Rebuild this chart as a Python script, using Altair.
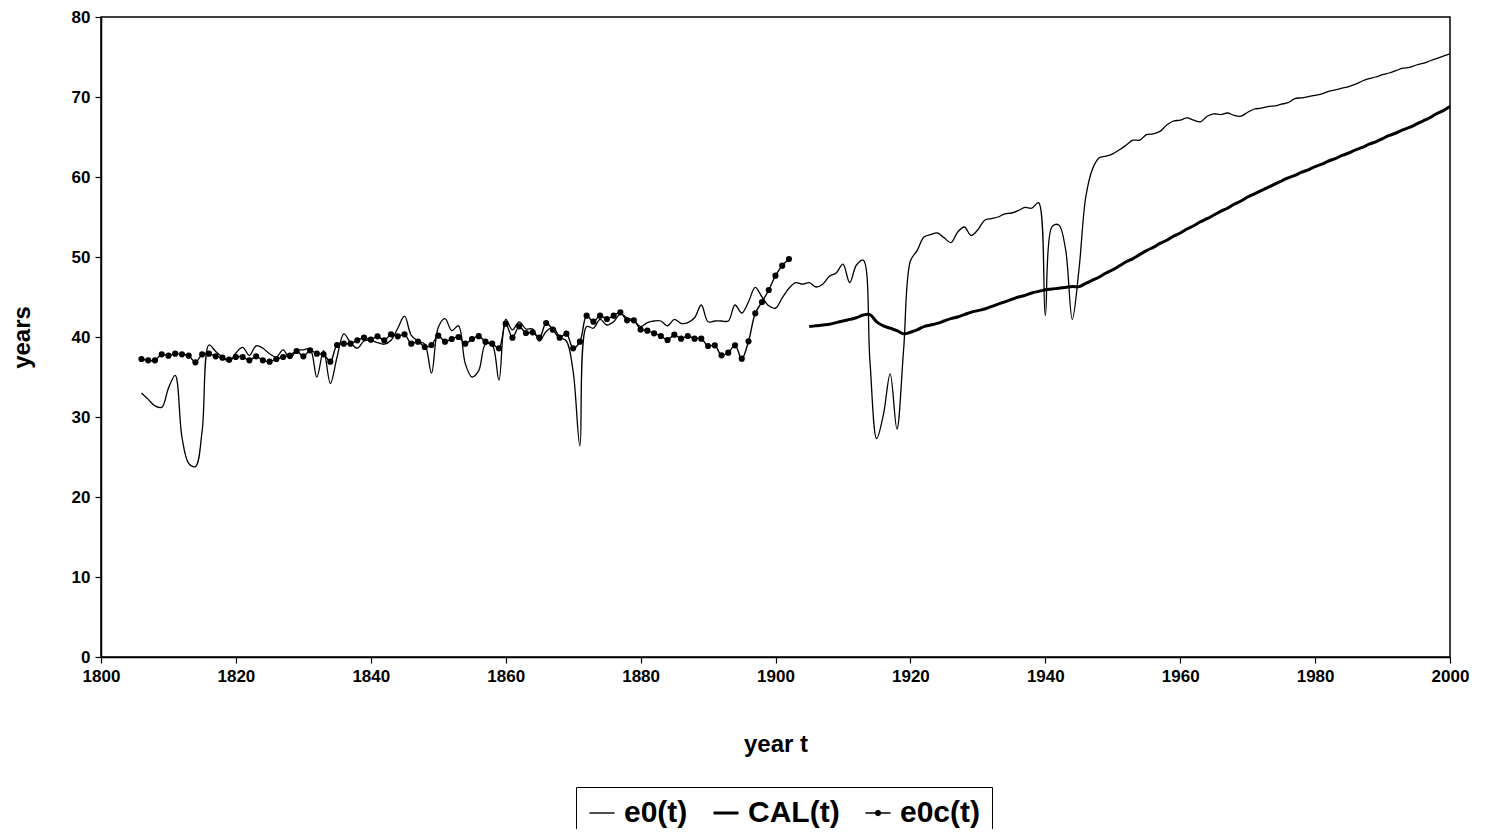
import altair as alt
import pandas as pd

FONT = "Liberation Sans"

series_names = ["e0(t)", "CAL(t)", "e0c(t)"]
x_ticks = [1800, 1820, 1840, 1860, 1880, 1900, 1920, 1940, 1960, 1980, 2000]
y_ticks = [0, 10, 20, 30, 40, 50, 60, 70, 80]

# e0(t): yearly values from 1806 to 2000
e0_start = 1806
e0_values = [
    33.0, 32.2, 31.4, 31.2, 33.6, 35.2, 27.5, 24.2, 23.8, 28.3,
    39.0, 38.2, 37.5, 36.9, 38.0, 38.7, 37.7, 38.9, 38.6, 37.9,
    37.5, 38.4, 37.3, 38.3, 38.4, 38.5, 35.0, 38.3, 34.2, 37.5,
    40.4, 39.3, 38.6, 39.5, 39.6, 39.3, 39.1, 39.6, 41.1, 42.6,
    40.2, 39.5, 39.1, 35.5, 41.2, 42.3, 40.8, 41.4, 36.7, 35.0,
    35.8, 39.1, 39.0, 34.6, 42.2, 40.9, 41.9, 41.0, 41.0, 39.5,
    40.7, 41.2, 40.0, 39.5, 35.7, 26.4, 41.3, 41.1, 42.2, 41.5,
    41.9, 42.9, 42.4, 42.1, 41.3, 41.8, 42.0, 42.0, 41.4, 42.2,
    41.7, 41.8, 42.4, 44.0, 41.9, 42.0, 42.0, 42.0, 44.0, 43.0,
    44.4, 46.2, 45.0, 43.9, 43.6, 44.9, 46.1, 46.8, 46.6, 46.8,
    46.25, 46.6, 47.6, 48.0, 49.1, 46.8, 49.0, 49.6, 37.0, 27.3,
    30.3, 35.4, 28.5, 38.5, 49.5, 50.8, 52.5, 52.8, 53.0, 52.4,
    51.8, 53.1, 53.75, 52.7, 53.4, 54.6, 54.8, 55.0, 55.4, 55.5,
    55.8, 56.2, 56.1, 56.8, 42.7, 53.8, 54.0, 51.0, 42.2, 48.5,
    57.5, 61.0, 62.4, 62.6, 62.9, 63.4, 64.0, 64.6, 64.6, 65.3,
    65.4, 65.7, 66.5, 67.0, 67.1, 67.4, 67.1, 66.9, 67.6, 67.9,
    67.8, 68.0, 67.7, 67.6, 68.1, 68.5, 68.6, 68.8, 68.9, 69.1,
    69.3, 69.8, 69.9, 70.05, 70.2, 70.4, 70.7, 70.9, 71.1, 71.3,
    71.6, 72.0, 72.3, 72.5, 72.8, 73.0, 73.3, 73.6, 73.7, 74.0,
    74.2, 74.5, 74.8, 75.1, 75.4,
]

# CAL(t): yearly values from 1905 to 2000
cal_start = 1905
cal_values = [
    41.3, 41.4, 41.5, 41.6, 41.8, 42.0, 42.2, 42.4, 42.75, 42.8,
    41.9, 41.4, 41.1, 40.8, 40.4, 40.6, 40.9, 41.3, 41.5, 41.7,
    42.0, 42.3, 42.5, 42.8, 43.1, 43.3, 43.5, 43.8, 44.1, 44.4,
    44.7, 45.0, 45.2, 45.5, 45.7, 45.9, 46.0, 46.1, 46.2, 46.3,
    46.3, 46.7, 47.1, 47.5, 48.0, 48.4, 48.9, 49.4, 49.8, 50.3,
    50.8, 51.2, 51.7, 52.1, 52.6, 53.0, 53.5, 53.9, 54.4, 54.8,
    55.25, 55.7, 56.1, 56.6, 57.0, 57.5, 57.9, 58.3, 58.7, 59.1,
    59.5, 59.9, 60.2, 60.6, 60.9, 61.3, 61.6, 62.0, 62.3, 62.7,
    63.0, 63.4, 63.7, 64.1, 64.4, 64.8, 65.2, 65.5, 65.9, 66.2,
    66.6, 67.0, 67.4, 67.9, 68.3, 68.8,
]

# e0c(t): yearly values from 1806 to 1902
e0c_start = 1806
e0c_values = [
    37.25, 37.08, 37.08, 37.83, 37.67, 37.92, 37.83, 37.67, 36.83, 37.83,
    37.92, 37.58, 37.42, 37.17, 37.5, 37.5, 37.08, 37.58, 37.08, 36.92,
    37.25, 37.5, 37.67, 38.25, 37.58, 38.33, 37.92, 37.83, 36.92, 39.0,
    39.17, 39.17, 39.58, 39.92, 39.67, 40.08, 39.58, 40.33, 40.08, 40.33,
    39.17, 39.42, 38.75, 39.0, 40.17, 39.42, 39.75, 40.0, 39.17, 39.75,
    40.1, 39.42, 39.17, 38.58, 41.67, 39.92, 41.33, 40.5, 40.58, 39.92,
    41.75, 40.92, 39.92, 40.42, 38.58, 39.42, 42.67, 41.92, 42.67, 42.25,
    42.67, 43.08, 42.08, 42.08, 40.93, 40.79, 40.46, 40.13, 39.63, 40.29,
    39.79, 40.13, 39.79, 39.79, 38.88, 38.96, 37.71, 38.04, 38.96, 37.29,
    39.46, 42.96, 44.38, 45.88, 47.67, 48.92, 49.75,
]

rows = []
for name, start, vals in [
    ("e0(t)", e0_start, e0_values),
    ("CAL(t)", cal_start, cal_values),
    ("e0c(t)", e0c_start, e0c_values),
]:
    for i, v in enumerate(vals):
        rows.append({"year": start + i, "value": v, "series": name})
df = pd.DataFrame(rows)

x_scale = alt.Scale(domain=[1800, 2000], nice=False, zero=False)
y_scale = alt.Scale(domain=[0, 80], nice=False)

x_axis = alt.Axis(
    values=x_ticks, format="d", title="year t", grid=False,
    labelFont=FONT, labelFontSize=17, labelFontWeight="bold", labelColor="black",
    titleFont=FONT, titleFontSize=24, titleFontWeight="bold", titleColor="black",
    titlePadding=48, labelPadding=5, tickSize=6, tickColor="black",
    domainColor="black", domainWidth=1.5, tickWidth=1.2, labelFlush=False,
)
y_axis = alt.Axis(
    values=y_ticks, title="years", grid=False,
    labelFont=FONT, labelFontSize=17, labelFontWeight="bold", labelColor="black",
    titleFont=FONT, titleFontSize=24, titleFontWeight="bold", titleColor="black",
    titlePadding=37, labelPadding=5, tickSize=6, tickColor="black",
    domainColor="black", domainWidth=1.5, tickWidth=1.2,
)

x_enc = alt.X("year:Q", scale=x_scale, axis=x_axis)
y_enc = alt.Y("value:Q", scale=y_scale, axis=y_axis)

base = alt.Chart(df)


def series_line(name, width):
    return (
        base.transform_filter(alt.datum.series == name)
        .mark_line(interpolate="catmull-rom", color="black", strokeWidth=width)
        .encode(x=x_enc, y=y_enc)
    )


e0_line = series_line("e0(t)", 1.3)
cal_line = series_line("CAL(t)", 3.0)
e0c_line = series_line("e0c(t)", 1.4)

dots = (
    base.transform_filter(alt.datum.series == "e0c(t)")
    .mark_point(filled=True, shape="circle", size=38, color="black", opacity=1)
    .encode(x=x_enc, y=y_enc)
)

# legend symbols (custom SVG paths): thin line, thick line, line with a dot
THIN_PATH = "M-1,0L1,0"
THICK_PATH = "M-1,-0.06L1,-0.06M-1,0L1,0M-1,0.06L1,0.06"
DOT_PATH = (
    "M-1,0L1,0"
    "M0.2,0L0.141,0.141L0,0.2L-0.141,0.141L-0.2,0L-0.141,-0.141L0,-0.2L0.141,-0.141Z"
    "M0.12,0L0.085,0.085L0,0.12L-0.085,0.085L-0.12,0L-0.085,-0.085L0,-0.12L0.085,-0.085Z"
    "M0.05,0L0,0.05L-0.05,0L0,-0.05Z"
)

legend = alt.Legend(
    title=None,
    orient="none",
    legendX=475,
    legendY=770,
    direction="horizontal",
    columns=3,
    labelFont=FONT,
    labelFontSize=30,
    labelFontWeight="bold",
    labelColor="black",
    labelOffset=7,
    symbolSize=625,
    symbolStrokeWidth=1.4,
    symbolStrokeColor="black",
    symbolFillColor="black",
    symbolOpacity=1,
    columnPadding=22,
    padding=11,
    strokeColor="black",
    fillColor="white",
)

# legend carrier: points placed far outside the y-domain and clipped away
legend_layer = base.mark_point(filled=False, color="black", opacity=1, clip=True).encode(
    x=alt.X("year:Q", scale=x_scale, axis=x_axis),
    y=alt.Y("year:Q", scale=y_scale, axis=y_axis),
    shape=alt.Shape(
        "series:N",
        scale=alt.Scale(domain=series_names, range=[THIN_PATH, THICK_PATH, DOT_PATH]),
        legend=legend,
    ),
)

chart = (
    alt.layer(e0_line, cal_line, e0c_line, dots, legend_layer)
    .properties(
        width=1349,
        height=640,
        padding={"left": 93, "top": 9, "right": 30, "bottom": 172},
        autosize=alt.AutoSizeParams(type="none"),
        background="white",
    )
    .configure_view(stroke="black", strokeWidth=1.5)
)

chart.save("out.html", embed_options={"renderer": "svg", "actions": False})
